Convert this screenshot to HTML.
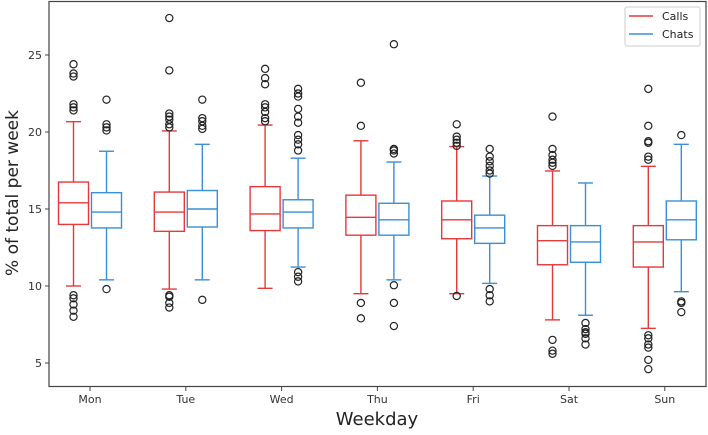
<!DOCTYPE html>
<html><head><meta charset="utf-8"><style>
body{margin:0;background:#fff;font-family:"Liberation Sans","DejaVu Sans",sans-serif;}
svg text{font-family:"DejaVu Sans","Liberation Sans",sans-serif;}
</style></head><body>
<svg id="chart" width="708" height="430" viewBox="0 0 708 430" xmlns="http://www.w3.org/2000/svg">
<rect x="49" y="1.5" width="657" height="385" fill="#fff" stroke="#444" stroke-width="1.2"/>
<g id="marks"></g>
<text transform="translate(18,193) rotate(-90)" text-anchor="middle" font-size="17" fill="#222">% of total per week</text>
<text x="377" y="425" text-anchor="middle" font-size="18" fill="#222">Weekday</text>
<g>
<rect x="625" y="7" width="75" height="39" fill="#fff" stroke="#ccc" rx="2"/>
<line x1="629" y1="16" x2="653" y2="16" stroke="#e8393a" stroke-width="1.5"/>
<text x="662" y="20" font-size="11" fill="#222">Calls</text>
<line x1="629" y1="34" x2="653" y2="34" stroke="#3a8fd6" stroke-width="1.5"/>
<text x="662" y="38" font-size="11" fill="#222">Chats</text>
</g>
</svg>
<script>
const days=["Mon","Tue","Wed","Thu","Fri","Sat","Sun"];
const yTicks=[5,10,15,20,25];
// [whislo, q1, median, q3, whishi]
const callsStats=[[10.0,14.0,15.4,16.75,20.67],[9.8,13.55,14.8,16.1,20.07],[9.85,13.6,14.68,16.45,20.45],[9.5,13.3,14.46,15.9,19.43],[9.5,13.07,14.3,15.52,19.05],[7.8,11.38,12.94,13.92,17.47],[7.25,11.23,12.86,13.92,17.77]];
const chatsStats=[[10.4,13.77,14.8,16.06,18.75],[10.4,13.83,15.0,16.2,19.2],[11.23,13.77,14.8,15.6,18.3],[10.4,13.3,14.3,15.37,18.05],[10.17,12.77,13.77,14.6,17.14],[8.1,11.54,12.86,13.92,16.69],[9.63,13.0,14.3,15.52,19.2]];
const callsOutliers=[[24.4,23.8,23.6,21.8,21.6,21.4,9.4,9.2,8.8,8.4,8.0],[27.4,24.0,21.2,21.0,20.8,20.5,20.3,9.4,9.3,8.9,8.6],[24.1,23.5,23.1,21.8,21.6,21.3,20.9,20.7],[23.2,20.4,8.9,7.9],[20.5,19.7,19.5,19.3,19.1,9.35],[21.0,18.9,18.5,18.2,18.0,17.8,6.5,5.8,5.6],[22.8,20.4,19.4,19.3,18.4,18.2,6.8,6.6,6.2,6.0,5.2,4.6]];
const chatsOutliers=[[22.1,20.5,20.3,20.1,9.8],[22.1,20.9,20.7,20.4,20.2,9.1],[22.8,22.5,22.3,21.5,21.0,20.6,19.8,19.5,19.2,18.8,10.9,10.6,10.3],[25.7,18.9,18.8,18.6,10.05,8.9,7.4],[18.9,18.4,18.1,17.8,17.5,17.3,9.8,9.4,9.0],[7.6,7.2,7.0,6.9,6.6,6.2],[19.8,9.0,8.9,8.3]];
const NS="http://www.w3.org/2000/svg";
const svg=document.getElementById('chart');
const g=document.getElementById('marks');
const yS=v=>209-(v-15)*15.4;
const xS=i=>90+i*95.8;
function mk(tag,a,parent){const e=document.createElementNS(NS,tag);for(const k in a)e.setAttribute(k,a[k]);(parent||g).appendChild(e);return e;}
yTicks.forEach(t=>{
  const l=mk('line',{x1:45,x2:49,y1:yS(t),y2:yS(t),stroke:'#444'});
  
  
  const tx=mk('text',{x:42,y:yS(t)+4,'text-anchor':'end','font-size':11,fill:'#333'});
  tx.textContent=t;
  
  
});
days.forEach((d,i)=>{
  const l=mk('line',{x1:xS(i),x2:xS(i),y1:387,y2:391,stroke:'#444'});
  
  
  const tx=mk('text',{x:xS(i),y:403,'text-anchor':'middle','font-size':11,fill:'#333'});
  tx.textContent=d;
  
  
});
function box(stats,outs,cx,col,name){
  const [lo,q1,md,q3,hi]=stats;
  const grp=mk('g',{});
  
  
  const s={stroke:col,'stroke-width':1.4,fill:'none'};
  mk('rect',Object.assign({x:cx-15,y:yS(q3),width:30,height:yS(q1)-yS(q3)},s),grp);
  mk('line',Object.assign({x1:cx-15,x2:cx+15,y1:yS(md),y2:yS(md)},s),grp);
  mk('line',Object.assign({x1:cx,x2:cx,y1:yS(q3),y2:yS(hi)},s),grp);
  mk('line',Object.assign({x1:cx,x2:cx,y1:yS(q1),y2:yS(lo)},s),grp);
  mk('line',Object.assign({x1:cx-7.5,x2:cx+7.5,y1:yS(hi),y2:yS(hi)},s),grp);
  mk('line',Object.assign({x1:cx-7.5,x2:cx+7.5,y1:yS(lo),y2:yS(lo)},s),grp);
  outs.forEach(o=>{
    const c=mk('circle',{cx:cx,cy:yS(o),r:3.6,fill:'none',stroke:'#222','stroke-width':1.2},grp);
    
    
  });
}
days.forEach((d,i)=>{
  box(callsStats[i],callsOutliers[i],xS(i)-16.5,'#e8393a','calls-box-'+d.toLowerCase());
  box(chatsStats[i],chatsOutliers[i],xS(i)+16.5,'#3a8fd6','chats-box-'+d.toLowerCase());
});
</script>
</body></html>
